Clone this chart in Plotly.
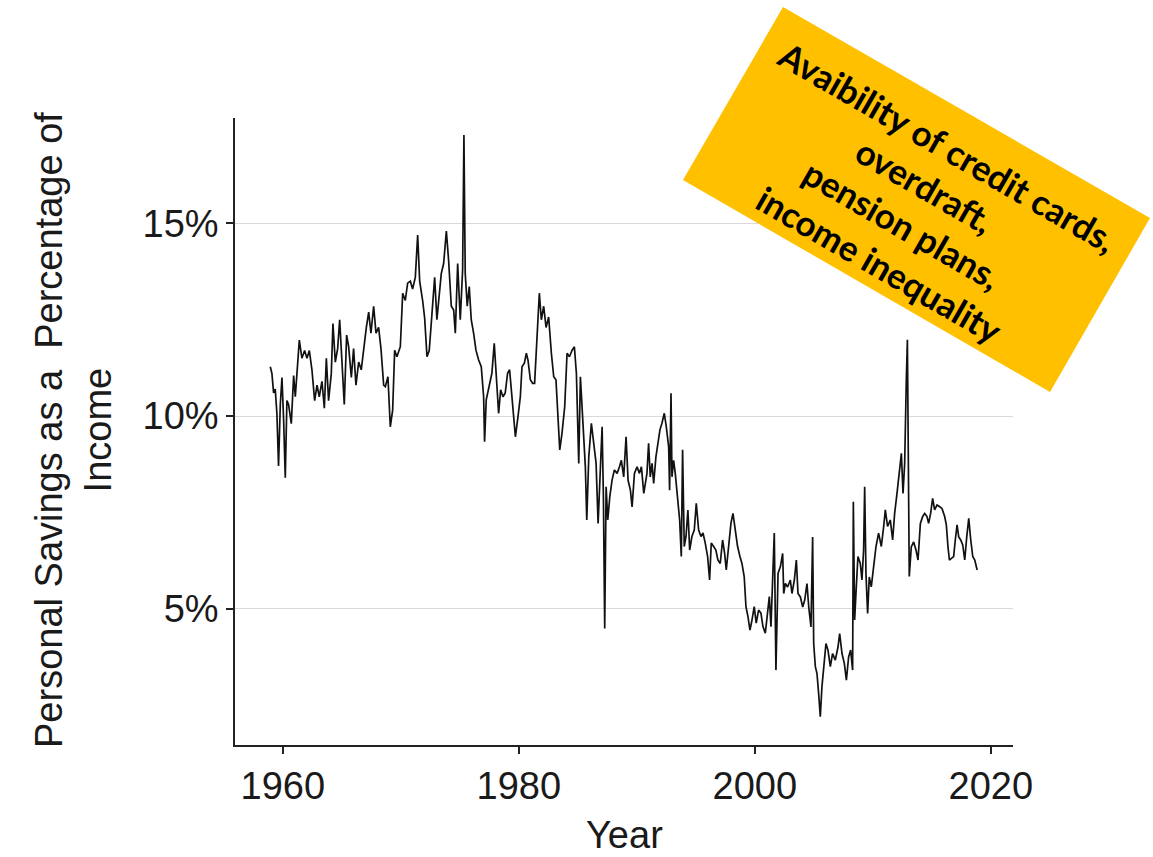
import plotly.graph_objects as go

# Personal saving rate, monthly-ish readings (decimal year, percent of income)
years = [
    1958.94, 1959.08, 1959.22, 1959.36, 1959.50, 1959.64, 1959.79, 1959.93,
    1960.07, 1960.21, 1960.35, 1960.49, 1960.72, 1960.92, 1961.06, 1961.20,
    1961.40, 1961.62, 1961.85, 1962.05, 1962.25, 1962.47, 1962.70, 1962.90,
    1963.09, 1963.32, 1963.52, 1963.69, 1963.88, 1964.11, 1964.25, 1964.45,
    1964.65, 1964.82, 1965.01, 1965.21, 1965.41, 1965.58, 1965.81, 1966.00,
    1966.20, 1966.43, 1966.65, 1966.85, 1967.08, 1967.28, 1967.47, 1967.70,
    1967.90, 1968.12, 1968.32, 1968.55,
    1968.69, 1968.91, 1969.11, 1969.31, 1969.48, 1969.67, 1969.96, 1970.16,
    1970.38, 1970.58, 1970.81, 1971.00, 1971.23, 1971.43, 1971.60, 1971.85,
    1972.02, 1972.22, 1972.41, 1972.64, 1972.87, 1973.06, 1973.26, 1973.43,
    1973.63, 1973.86, 1974.05, 1974.28, 1974.48, 1974.62, 1974.82, 1975.04,
    1975.24, 1975.35, 1975.46, 1975.63, 1975.80, 1975.97, 1976.17, 1976.37,
    1976.59, 1976.82, 1977.02, 1977.10, 1977.24, 1977.50, 1977.72, 1977.92,
    1978.09, 1978.29, 1978.46, 1978.66, 1978.85, 1979.05, 1979.22, 1979.42,
    1979.62, 1979.71,
    1979.93, 1980.13, 1980.27, 1980.47, 1980.64, 1980.78, 1980.98, 1981.17,
    1981.34, 1981.54, 1981.74, 1981.91, 1982.11, 1982.31, 1982.53, 1982.76,
    1982.96, 1983.15, 1983.32, 1983.47, 1983.66, 1983.89, 1984.09, 1984.29,
    1984.52, 1984.71, 1984.88, 1985.08, 1985.22, 1985.36, 1985.50, 1985.64,
    1985.76, 1985.93, 1986.15, 1986.35, 1986.55, 1986.72, 1986.92, 1987.06,
    1987.17, 1987.28, 1987.40, 1987.54, 1987.71, 1987.90, 1988.10, 1988.33,
    1988.53, 1988.69, 1988.89, 1989.09, 1989.26, 1989.46, 1989.60, 1989.80,
    1990.02, 1990.22, 1990.39, 1990.59,
    1990.86, 1991.00, 1991.14, 1991.29, 1991.43, 1991.62, 1991.79, 1991.96,
    1992.13, 1992.33, 1992.50, 1992.70, 1992.78, 1992.90, 1992.98, 1993.12,
    1993.26, 1993.46, 1993.63, 1993.77, 1993.88, 1994.02, 1994.17, 1994.33,
    1994.48, 1994.67, 1994.87, 1995.04, 1995.24, 1995.44, 1995.61, 1995.80,
    1996.00, 1996.17, 1996.31, 1996.51, 1996.70, 1996.87, 1997.07, 1997.27,
    1997.44, 1997.58, 1997.78, 1997.98, 1998.15, 1998.34, 1998.54, 1998.74,
    1998.91, 1999.10, 1999.25, 1999.42, 1999.59, 1999.76, 1999.95, 2000.12,
    2000.32, 2000.52, 2000.69, 2000.89, 2001.09, 2001.23, 2001.37, 2001.51,
    2001.65, 2001.79,
    2001.97, 2002.17, 2002.36, 2002.45, 2002.59, 2002.78, 2003.01, 2003.15,
    2003.35, 2003.52, 2003.66, 2003.86, 2004.06, 2004.23, 2004.42, 2004.57,
    2004.76, 2004.90, 2004.99, 2005.13, 2005.27, 2005.41, 2005.55, 2005.69,
    2005.83, 2006.03, 2006.20, 2006.40, 2006.59, 2006.82, 2007.05, 2007.19,
    2007.39, 2007.59, 2007.76, 2007.95, 2008.12, 2008.29, 2008.35, 2008.46,
    2008.60, 2008.74, 2008.94, 2009.08, 2009.22, 2009.31, 2009.42, 2009.56,
    2009.70, 2009.87, 2010.07, 2010.27, 2010.49, 2010.72, 2010.92, 2011.06,
    2011.25, 2011.48, 2011.68, 2011.85, 2012.05, 2012.25, 2012.42, 2012.56,
    2012.70, 2012.84, 2012.93,
    2013.09, 2013.26, 2013.46, 2013.66, 2013.83, 2014.03, 2014.23, 2014.40,
    2014.59, 2014.73, 2014.90, 2015.07, 2015.24, 2015.44, 2015.64, 2015.86,
    2016.09, 2016.23, 2016.37, 2016.49, 2016.66, 2016.85, 2016.99, 2017.14,
    2017.28, 2017.45, 2017.62, 2017.79, 2017.96, 2018.13, 2018.30, 2018.47,
    2018.64, 2018.84,
]

saving_rate = [
    11.28, 11.10, 10.60, 10.70, 10.07, 8.70, 10.30, 11.00,
    9.90, 8.40, 10.40, 10.30, 9.80, 11.05, 10.50, 11.05,
    11.97, 11.50, 11.70, 11.50, 11.70, 11.20, 10.40, 10.80,
    10.50, 10.90, 10.20, 11.50, 10.40, 11.10, 12.40, 11.40,
    11.75, 12.50, 11.40, 10.30, 12.10, 11.80, 11.00, 11.75,
    10.80, 11.40, 11.20, 11.75, 12.30, 12.70, 12.15, 12.85,
    12.15, 12.30, 11.75, 10.80,
    10.76, 11.02, 9.72, 10.15, 11.71, 11.54, 11.80, 13.19,
    13.00, 13.45, 13.50, 13.30, 13.60, 14.70, 13.50, 13.00,
    12.55, 11.54, 11.70, 12.65, 13.60, 12.50, 13.10, 13.70,
    13.96, 14.80, 14.05, 12.85, 12.75, 12.15, 13.96, 12.50,
    13.80, 17.30, 13.70, 12.85, 13.36, 12.50, 12.15, 11.71,
    11.46, 11.28, 10.50, 9.33, 10.42, 10.85, 11.11, 11.89,
    10.94, 10.07, 10.68, 10.50, 10.60, 11.11, 11.20, 10.50,
    9.90, 9.46,
    9.98, 10.50, 11.28, 11.37, 11.63, 11.45, 10.94, 10.85,
    10.85, 12.23, 13.19, 12.50, 12.85, 12.30, 12.57, 11.63,
    11.02, 10.94, 9.90, 9.12, 9.55, 10.24, 11.63, 11.54,
    11.71, 11.80, 11.11, 8.77, 11.02, 10.24, 9.46, 8.68,
    7.30, 8.94, 9.81, 9.29, 8.77, 7.21, 8.51, 9.72,
    7.90, 4.48, 8.16, 7.30, 7.90, 8.33, 8.60, 8.51,
    8.68, 8.85, 8.42, 9.46, 8.33, 8.07, 7.64, 8.51,
    8.68, 8.51, 8.68, 7.99,
    8.51, 9.29, 8.42, 8.77, 8.25, 8.94, 9.29, 9.64,
    9.81, 10.07, 9.72, 9.20, 8.07, 10.59, 8.42, 8.85,
    8.51, 7.73, 7.30, 6.35, 9.12, 6.61, 6.87, 7.56,
    6.52, 6.87, 7.04, 7.73, 7.04, 6.87, 6.96, 6.70,
    6.35, 5.74, 6.70, 6.61, 6.52, 6.26, 6.17, 6.78,
    6.44, 6.00, 6.61, 7.22, 7.47, 7.04, 6.61, 6.35,
    6.17, 5.83, 5.05, 4.79, 4.44, 4.70, 5.05, 4.62,
    4.96, 4.88, 4.53, 4.36, 4.96, 5.31, 4.53, 5.57,
    6.96, 3.40,
    5.91, 6.09, 6.43, 5.39, 5.65, 5.56, 5.74, 5.39,
    5.74, 6.26, 5.39, 5.30, 5.04, 5.22, 5.65, 5.04,
    4.52, 6.86, 4.09, 3.49, 3.31, 2.79, 2.19, 2.97,
    3.49, 4.09, 3.92, 3.49, 3.83, 3.66, 4.00, 4.35,
    3.83, 3.57, 3.14, 3.74, 3.92, 3.40, 7.77, 4.70,
    5.56, 6.35, 6.17, 5.74, 6.52, 8.16, 5.91, 4.87,
    5.82, 5.56, 6.09, 6.61, 6.96, 6.61, 7.13, 7.56,
    7.13, 7.30, 6.78, 7.47, 7.99, 8.60, 9.03, 7.99,
    8.77, 10.94, 11.98,
    5.83, 6.60, 6.73, 6.52, 6.26, 7.21, 7.39, 7.47,
    7.39, 7.21, 7.47, 7.86, 7.56, 7.69, 7.65, 7.60,
    7.39, 7.17, 6.60, 6.26, 6.30, 6.35, 6.78, 7.17,
    6.86, 6.78, 6.65, 6.26, 6.86, 7.34, 6.78, 6.35,
    6.26, 6.00,
]

x_ticks = [1960, 1980, 2000, 2020]
y_ticks = [5, 10, 15]
y_tick_labels = ["5%", "10%", "15%"]

callout_lines = [
    "Avaibility of credit cards,",
    "overdraft,",
    "pension plans,",
    "income inequality",
]

W, H = 1153, 857
L, R, T, B = 235, 140, 118, 112
PW, PH = W - L - R, H - T - B

def px_to_paper(px, py):
    return (px - L) / PW, 1 - (py - T) / PH

AX_FONT = dict(family="Liberation Sans Narrow, Arial Narrow, Liberation Sans, sans-serif",
               size=38, color="#1a1a1a")

fig = go.Figure()
fig.add_trace(go.Scatter(
    x=years, y=saving_rate, mode="lines",
    line=dict(color="#111111", width=1.7),
    hoverinfo="skip", showlegend=False,
))

fig.update_xaxes(
    range=[1955.95, 2021.88], tickvals=x_ticks,
    showgrid=False, zeroline=False,
    showline=True, linecolor="#222222", linewidth=1.5,
    ticks="outside", ticklen=7, tickwidth=1.5, tickcolor="#222222",
    tickfont=AX_FONT,
)
fig.update_yaxes(
    range=[1.455, 17.74], tickvals=y_ticks, ticktext=y_tick_labels,
    showgrid=True, gridcolor="#d9d9d9", gridwidth=1, zeroline=False,
    showline=True, linecolor="#222222", linewidth=1.5,
    ticks="outside", ticklen=7, tickwidth=1.5, tickcolor="#222222",
    tickfont=AX_FONT,
)

annotations = []
# axis titles
yx, yy = px_to_paper(74, 430)
annotations.append(dict(
    x=yx, y=yy, xref="paper", yref="paper", xanchor="center", yanchor="middle",
    text="Personal Savings as a\u00a0 Percentage of<br>Income", textangle=-90,
    showarrow=False, font=AX_FONT,
))
tx, ty = px_to_paper(624, 835)
annotations.append(dict(
    x=tx, y=ty, xref="paper", yref="paper", xanchor="center", yanchor="middle",
    text="Year", showarrow=False, font=AX_FONT,
))

# rotated callout box
corners = [(783, 7), (1150, 218), (1050, 392), (683, 180)]
pts = [px_to_paper(cx, cy) for cx, cy in corners]
path = "M " + " L ".join(f"{a:.4f},{b:.4f}" for a, b in pts) + " Z"
fig.add_shape(type="path", path=path, xref="paper", yref="paper",
              fillcolor="#FFC000", line=dict(width=0), layer="above")

line_centres = [(947, 146.5), (924.8, 185.5), (902.3, 224.5), (879.8, 263.5)]
for txt, (cx, cy) in zip(callout_lines, line_centres):
    ax_, ay_ = px_to_paper(cx, cy)
    annotations.append(dict(
        x=ax_, y=ay_, xref="paper", yref="paper", xanchor="center", yanchor="middle",
        text=f"<b>{txt}</b>", textangle=30, showarrow=False,
        font=dict(family="Lato, Open Sans, sans-serif", size=35, color="#000000"),
    ))

fig.update_layout(
    width=W, height=H,
    margin=dict(l=L, r=R, t=T, b=B, autoexpand=False),
    paper_bgcolor="white", plot_bgcolor="white",
    annotations=annotations,
)

fig.write_html("out.html")
